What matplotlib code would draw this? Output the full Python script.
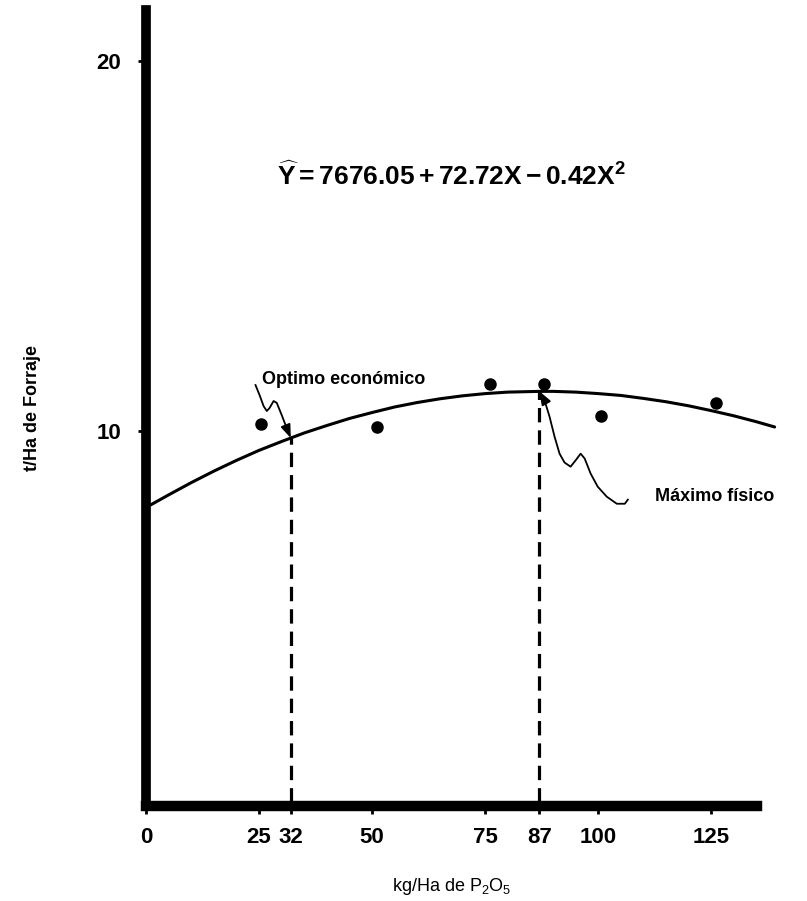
import matplotlib
matplotlib.use("Agg")
import matplotlib.pyplot as plt
import numpy as np

plt.rcParams['font.family'] = ['Liberation Sans', 'DejaVu Sans']
plt.rcParams['mathtext.fontset'] = 'custom'
plt.rcParams['mathtext.rm'] = 'Liberation Sans'
plt.rcParams['mathtext.bf'] = 'Liberation Sans:bold'
plt.rcParams['mathtext.it'] = 'Liberation Sans:italic'

# observed yields (t/Ha de forraje) vs kg/Ha de P2O5
obs_x = [25.5, 51, 76, 88, 100.5, 126]
obs_y = [10.19, 10.11, 11.27, 11.27, 10.41, 10.76]

# fitted response curve
curve_x = [0, 5, 10, 15, 20, 25, 30, 35, 40, 45, 50, 55, 60, 65, 70, 75, 80,
           87, 90, 95, 100, 105, 110, 115, 120, 125, 130, 135, 139]
curve_y = [7.95, 8.29, 8.62, 8.93, 9.22, 9.49, 9.73, 9.96, 10.16, 10.35,
           10.51, 10.66, 10.78, 10.88, 10.96, 11.02, 11.06, 11.08, 11.08,
           11.06, 11.02, 10.97, 10.89, 10.80, 10.69, 10.56, 10.42, 10.26, 10.12]

# optimo economico / maximo fisico
opt_x = [32, 87]
opt_y = [9.82, 11.08]

xticks = [0, 25, 32, 50, 75, 87, 100, 125]
yticks = [10, 20]

fig = plt.figure(figsize=(8.07, 9.01), dpi=100)
ax = fig.add_axes([0.181, 0.1054, 0.7576, 0.8830])

ax.plot(curve_x, curve_y, color='black', lw=2.2, clip_on=False,
        solid_capstyle='round', solid_joinstyle='round')
ax.plot(obs_x, obs_y, 'o', color='black', ms=8, clip_on=False)

for x, y in zip(opt_x, opt_y):
    ax.plot([x, x], [0, y], color='black', lw=2.3, dashes=(4.5, 2.5))

# wiggly pointer for "Optimo economico"
sq1 = np.array([(-7.8, 1.43), (-6.9, 1.16), (-6.0, 0.86), (-5.3, 0.73),
                (-4.7, 0.81), (-3.8, 1.0), (-3.1, 0.95), (-2.0, 0.62),
                (-0.9, 0.27)])
tip1 = np.array([opt_x[0], opt_y[0]])
p1 = sq1 + tip1
ax.plot(p1[:, 0], p1[:, 1], color='black', lw=1.3, solid_joinstyle='round')
ax.annotate('', xy=tip1, xytext=p1[-1],
            arrowprops=dict(arrowstyle='-|>,head_length=0.8,head_width=0.3',
                            color='black', lw=1.3, shrinkA=0, shrinkB=0))

# wiggly pointer for "Maximo fisico"
sq2 = np.array([(19.54, -2.92), (18.87, -3.03), (17.10, -3.03), (14.88, -2.84),
                (12.88, -2.57), (11.32, -2.22), (9.99, -1.81), (9.10, -1.68),
                (7.99, -1.86), (6.88, -2.03), (5.55, -1.92), (4.44, -1.68),
                (3.33, -1.22), (2.22, -0.68), (1.11, -0.24)])
tip2 = np.array([opt_x[1], opt_y[1]])
p2 = sq2 + tip2
ax.plot(p2[:, 0], p2[:, 1], color='black', lw=1.3, clip_on=False,
        solid_joinstyle='round')
ax.annotate('', xy=tip2, xytext=p2[-1],
            arrowprops=dict(arrowstyle='-|>,head_length=0.8,head_width=0.3',
                            color='black', lw=1.3, shrinkA=0, shrinkB=0))

ax.text(43.7, 11.4, 'Optimo económico', ha='center', va='center',
        fontsize=13, fontweight='bold')
ax.text(112.6, 8.24, 'Máximo físico', ha='left', va='center',
        fontsize=13, fontweight='bold')
ax.text(67.5, 16.9, r'$\widehat{\mathbf{Y}}\mathbf{ = 7676.05 + 72.72X - 0.42X^2}$',
        ha='center', va='center', fontsize=19)

ax.set_xlim(0, 135.2)
ax.set_ylim(-0.1, 21.35)
ax.set_xticks(xticks)
ax.set_yticks(yticks)
ax.set_xticklabels([str(t) for t in xticks], fontsize=16, fontweight='bold')
ax.set_yticklabels([str(t) for t in yticks], fontsize=16, fontweight='bold')
ax.tick_params(axis='x', direction='out', length=6, width=2, pad=9)
ax.tick_params(axis='y', direction='out', length=6, width=2, pad=12)

for s in ['top', 'right']:
    ax.spines[s].set_visible(False)
ax.spines['left'].set_linewidth(7)
ax.spines['bottom'].set_linewidth(7.5)
ax.spines['left'].set_capstyle('projecting')
ax.spines['bottom'].set_capstyle('projecting')

ax.set_ylabel('t/Ha de Forraje', fontsize=13, fontweight='bold', labelpad=40)
ax.set_xlabel(r'kg/Ha de P$_2$O$_5$', fontsize=13, labelpad=20)

fig.savefig('out.png', dpi=100)
